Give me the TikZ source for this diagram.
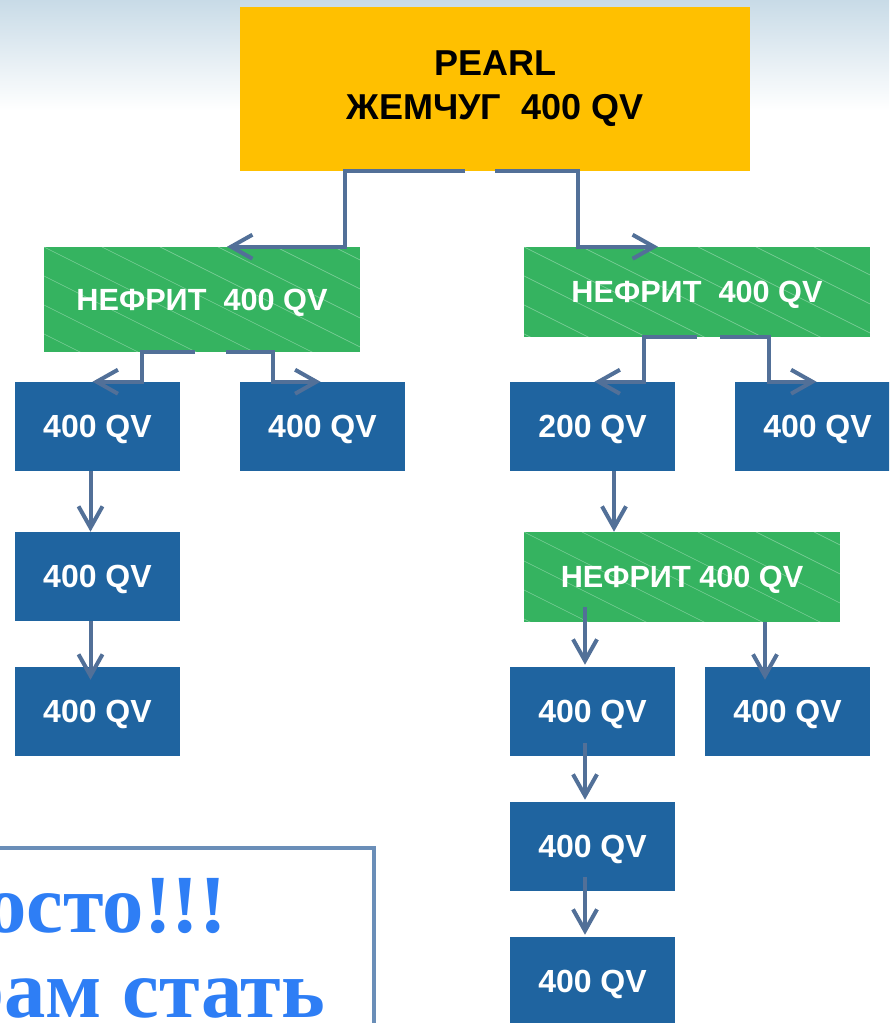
\documentclass[tikz,border=0pt]{standalone}
\usepackage{fontspec}
\setmainfont{Liberation Sans}
\newfontfamily\notefont{Liberation Serif}
\usetikzlibrary{arrows.meta,calc}

\definecolor{skytop}{RGB}{200,219,231}
\definecolor{pearlgold}{RGB}{255,192,0}
\definecolor{jadegreen}{RGB}{53,179,96}
\definecolor{qvblue}{RGB}{31,100,160}
\definecolor{linkblue}{RGB}{82,112,152}
\definecolor{noteframe}{RGB}{106,142,184}
\definecolor{notetext}{RGB}{46,126,245}

\tikzset{
  box/.style={rectangle, inner sep=0pt},
  pearlbox/.style={box, align=center, fill=pearlgold, text=black,
    minimum width=382.5pt, minimum height=123pt,
    font=\bfseries\fontsize{27}{33}\selectfont},
  jadebox/.style={box, text depth=0pt, fill=jadegreen, text=white,
    font=\bfseries\fontsize{23}{27}\selectfont,
    path picture={
      \foreach \k in {-5,...,8}
        \draw[white, opacity=.35, line width=.5pt]
          ($(path picture bounding box.north west)+(\k*58,0)$) -- ++(440,220);
    }},
  qvbox/.style={box, text depth=0pt, fill=qvblue, text=white,
    minimum width=123.75pt, minimum height=66.75pt,
    font=\bfseries\fontsize{24}{28}\selectfont},
  link/.style={draw=linkblue, line width=3pt,
    -{Straight Barb[length=16pt,width=18pt]}},
  notebox/.style={rectangle, draw=noteframe, line width=3pt, inner sep=0pt},
  notetext/.style={inner sep=0pt, text=notetext,
    font=\notefont\bfseries\fontsize{62}{62}\selectfont},
}

\begin{document}
\begin{tikzpicture}[x=0.75pt, y=-0.75pt]
  \clip (0,0) rectangle (889,1023);
  \shade[top color=skytop, bottom color=white] (0,0) rectangle (889,110);

  \node[pearlbox] (pearl) at (495,89) {PEARL\\ЖЕМЧУГ\ \ 400 QV};

  \node[jadebox, minimum width=237pt, minimum height=78.75pt] (jadeL) at (202,299.5) {НЕФРИТ\ \ 400 QV};
  \node[jadebox, minimum width=259.5pt, minimum height=67.5pt] (jadeR) at (697,292) {НЕФРИТ\ \ 400 QV};

  \node[qvbox] (b1) at (97.5,426.5) {400 QV};
  \node[qvbox] (b2) at (322.5,426.5) {400 QV};
  \node[qvbox] (b3) at (97.5,576.5) {400 QV};
  \node[qvbox] (b4) at (97.5,711.5) {400 QV};

  \node[qvbox] (r1) at (592.5,426.5) {200 QV};
  \node[qvbox] (r2) at (817.5,426.5) {400 QV};
  \node[jadebox, minimum width=237pt, minimum height=67.5pt] (jadeB) at (682,577) {НЕФРИТ 400 QV};
  \node[qvbox] (r3) at (592.5,711.5) {400 QV};
  \node[qvbox] (r4) at (787.5,711.5) {400 QV};
  \node[qvbox] (r5) at (592.5,846.5) {400 QV};
  \node[qvbox] (r6) at (592.5,981.5) {400 QV};

  \draw[link] ($(pearl.south)+(-30,0)$) -- ($(pearl.south)+(-150,0)$) |- ($(jadeL.north)+(25,0)$);
  \draw[link] (pearl.south) -- ($(pearl.south)+(83,0)$) |- ($(jadeR.north)+(-39,0)$);

  \draw[link] ($(jadeL.south)+(-7,0)$) -- ($(jadeL.south)+(-60,0)$) |- ($(b1.north)+(-5,0)$);
  \draw[link] ($(jadeL.south)+(24,0)$) -- ($(jadeL.south)+(71,0)$) |- ($(b2.north)+(-2,0)$);
  \draw[link] ($(b1.south)+(-7,0)$) -- ($(b3.north)+(-7,0)$);
  \draw[link] ($(b3.south)+(-7,0)$) -- ($(b4.north)+(-7,13)$);

  \draw[link] (jadeR.south) -- ($(jadeR.south)+(-53,0)$) |- ($(r1.north)+(2,0)$);
  \draw[link] ($(jadeR.south)+(23,0)$) -- ($(jadeR.south)+(72,0)$) |- ($(r2.north)+(-1,0)$);
  \draw[link] ($(r1.south)+(21.5,0)$) -- ($(jadeB.north)+(-68,0)$);
  \draw[link] ($(jadeB.south)+(-97,-15)$) -- ($(r3.north)+(-7.5,-2)$);
  \draw[link] ($(jadeB.south)+(83,0)$) -- ($(r4.north)+(-22.5,13)$);
  \draw[link] ($(r3.south)+(-7.5,-13)$) -- ($(r5.north)+(-7.5,-2)$);
  \draw[link] ($(r5.south)+(-7.5,-14)$) -- ($(r6.north)+(-7.5,-2)$);

  \node[notebox, anchor=north east, minimum width=315pt, minimum height=165pt] (note) at (376,846) {};
  \node[notetext, anchor=base east] (line1) at (227,932) {росто!!!};
  \node[notetext, anchor=base east] (line2) at (325,1017) {рам стать};
\end{tikzpicture}
\end{document}
